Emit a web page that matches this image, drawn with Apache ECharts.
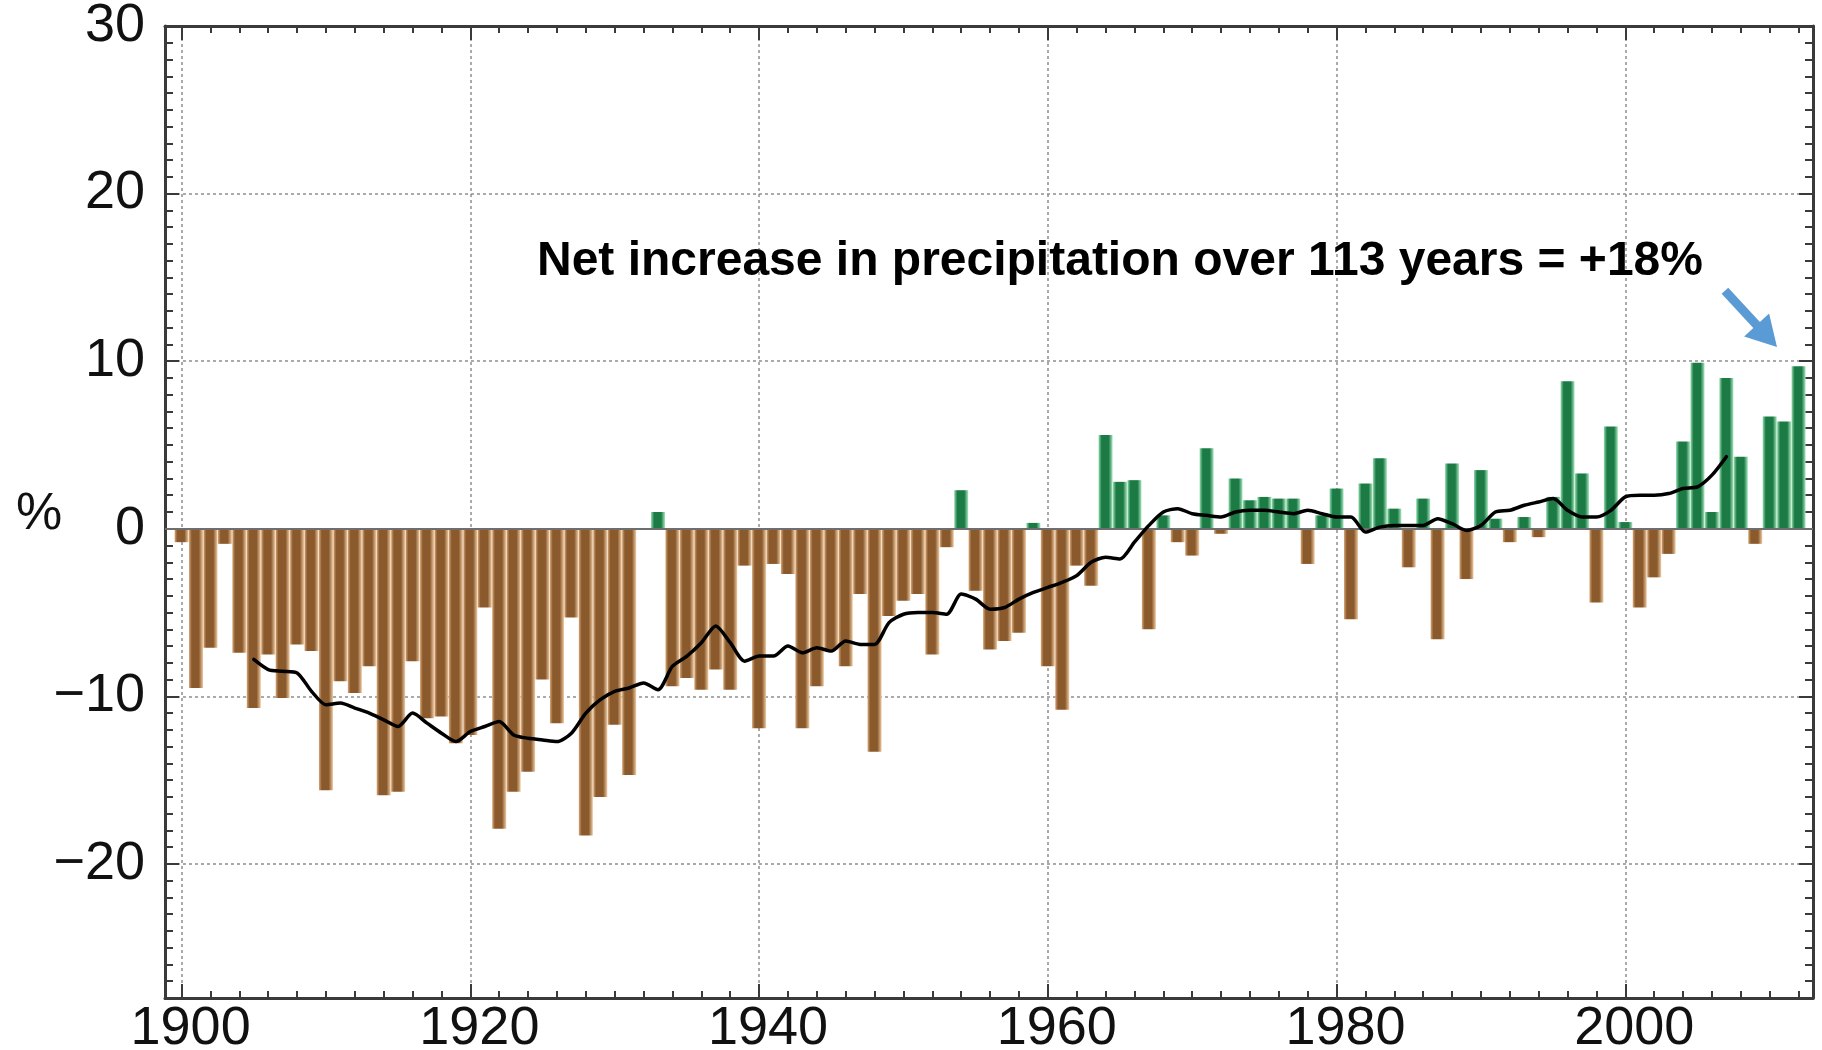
<!DOCTYPE html>
<html>
<head>
<meta charset="utf-8">
<script src="https://cdn.jsdelivr.net/npm/echarts@6/dist/echarts.min.js"></script>
<style>
html,body{margin:0;padding:0;background:#ffffff;}
#chart{width:1822px;height:1050px;}
</style>
</head>
<body>
<div id="chart"></div>
<script>
// ---------------- DATA ----------------
const firstYear = 1900;
// Annual precipitation anomaly (%), 1900-2012
const anomaly = [
  -0.8, -9.5, -7.1, -0.9, -7.4, -10.7, -7.5, -10.1, -6.9, -7.3,
  -15.6, -9.1, -9.8, -8.2, -15.9, -15.7, -7.9, -11.3, -11.2, -12.8,
  -12.3, -4.7, -17.9, -15.7, -14.5, -9.0, -11.6, -5.3, -18.3, -16.0,
  -11.7, -14.7, 0.0, 1.0, -9.4, -8.9, -9.6, -8.4, -9.6, -2.2,
  -11.9, -2.1, -2.7, -11.9, -9.4, -7.2, -8.2, -3.9, -13.3, -5.2,
  -4.3, -3.9, -7.5, -1.1, 2.3, -3.7, -7.2, -6.7, -6.2, 0.35,
  -8.2, -10.8, -2.2, -3.4, 5.6, 2.8, 2.9, -6.0, 0.8, -0.8,
  -1.6, 4.8, -0.3, 3.0, 1.7, 1.9, 1.8, 1.8, -2.1, 0.8,
  2.4, -5.4, 2.7, 4.2, 1.2, -2.3, 1.8, -6.6, 3.9, -3.0,
  3.5, 0.6, -0.8, 0.7, -0.5, 1.9, 8.8, 3.3, -4.4, 6.1,
  0.4, -4.7, -2.9, -1.5, 5.2, 9.9, 1.0, 9.0, 4.3, -0.9,
  6.7, 6.4, 9.7
];
const trendFirstYear = 1905;
// Smoothed (running mean) anomaly (%), 1905-2007
const trend = [
  -7.8, -8.4, -8.5, -8.6, -9.7,
  -10.5, -10.4, -10.7, -11.0, -11.4, -11.8, -11.0, -11.6, -12.2, -12.7,
  -12.1, -11.8, -11.5, -12.3, -12.5, -12.6, -12.7, -12.2, -11.0, -10.2,
  -9.7, -9.5, -9.2, -9.6, -8.2, -7.6, -6.8, -5.8, -6.8, -7.9,
  -7.6, -7.6, -7.0, -7.4, -7.1, -7.3, -6.7, -6.9, -6.9, -5.6,
  -5.1, -5.0, -5.0, -5.1, -3.9, -4.2, -4.8, -4.7, -4.2, -3.8,
  -3.5, -3.2, -2.8, -2.0, -1.7, -1.8, -0.8, 0.2, 1.0, 1.2,
  0.9, 0.8, 0.7, 1.0, 1.1, 1.1, 1.0, 0.9, 1.1, 0.9,
  0.7, 0.7, -0.2, 0.1, 0.2, 0.2, 0.2, 0.6, 0.3, -0.1,
  0.2, 1.0, 1.1, 1.4, 1.6, 1.8, 1.1, 0.7, 0.7, 1.1,
  1.9, 2.0, 2.0, 2.1, 2.4, 2.5, 3.2, 4.3
];
const xTickLabels = [1900, 1920, 1940, 1960, 1980, 2000];
const yTickLabels = [-20, -10, 0, 10, 20, 30];
const yUnitLabel = '%';
const annotationText = 'Net increase in precipitation over 113 years = +18%';

// ---------------- BUILD ----------------
const FONT = '"Liberation Sans", Arial, Helvetica, sans-serif';
const X_MIN = 1898.85, X_MAX = 2013;
const Y_MIN = -28, Y_MAX = 30;

const minorXTicks = [];
for (let y = 1900; y <= 2012; y += 2) minorXTicks.push(y);

const brownGrad = new echarts.graphic.LinearGradient(0, 0, 1, 0, [
  {offset: 0, color: '#d6a677'}, {offset: 0.2, color: '#8a5a2c'},
  {offset: 0.7, color: '#8a5a2c'}, {offset: 1, color: '#efcaa2'}
]);
const greenGrad = new echarts.graphic.LinearGradient(0, 0, 1, 0, [
  {offset: 0, color: '#93dbae'}, {offset: 0.22, color: '#1c7a45'},
  {offset: 0.72, color: '#1c7a45'}, {offset: 1, color: '#a6e6bf'}
]);

const barData = anomaly.map((v, i) => ({
  value: [firstYear + i, v],
  itemStyle: {color: v >= 0 ? greenGrad : brownGrad}
}));
const trendData = trend.map((v, i) => [trendFirstYear + i, v]);

const axisColor = '#3a3a3a';
const gridLine = {show: true, lineStyle: {color: '#8e8e8e', width: 1.5, type: [3, 3]}};
const fmtNum = v => (v < 0 ? '\u2212' + Math.abs(v) : String(v));

function xAxisCfg(pos, major) {
  return {
    type: 'value', position: pos, min: X_MIN, max: X_MAX,
    axisLine: {show: major, onZero: false, lineStyle: {color: axisColor, width: 3}},
    axisTick: {show: true, inside: true, length: major ? 14 : 7,
      customValues: major ? xTickLabels : minorXTicks,
      lineStyle: {color: axisColor, width: 2}},
    axisLabel: {show: false},
    splitLine: {show: false}
  };
}
function yAxisCfg(pos, major) {
  const c = {
    type: 'value', position: pos, min: Y_MIN, max: Y_MAX,
    axisLine: {show: major, onZero: false, lineStyle: {color: axisColor, width: 3}},
    axisTick: {show: true, inside: true, length: major ? 14 : 8,
      lineStyle: {color: axisColor, width: 2}},
    axisLabel: {show: false},
    splitLine: {show: false}
  };
  if (major) c.axisTick.customValues = yTickLabels; else c.interval = 1;
  return c;
}

const xMain = xAxisCfg('bottom', true);
xMain.axisLabel = {show: true, customValues: xTickLabels, margin: 4,
  fontSize: 54, fontFamily: FONT, color: '#111', padding: [0, 0, 0, 18],
  formatter: v => String(v)};
xMain.splitLine = gridLine;

const yMain = yAxisCfg('left', true);
yMain.axisLabel = {show: true, customValues: yTickLabels, margin: 20,
  fontSize: 54, fontFamily: FONT, color: '#111', formatter: fmtNum};
yMain.splitLine = gridLine;

const option = {
  animation: false,
  backgroundColor: '#ffffff',
  grid: {left: 165, right: 9, top: 26, bottom: 52, outerBoundsMode: 'none'},
  xAxis: [xMain, xAxisCfg('bottom', false), xAxisCfg('top', true), xAxisCfg('top', false)],
  yAxis: [yMain, yAxisCfg('left', false), yAxisCfg('right', true), yAxisCfg('right', false)],
  series: [
    {
      type: 'bar', xAxisIndex: 0, yAxisIndex: 0,
      barWidth: 14,
      data: barData,
      markLine: {
        silent: true, symbol: 'none', label: {show: false},
        lineStyle: {color: '#6e6e6e', width: 2, type: 'solid'},
        data: [{yAxis: 0}]
      }
    },
    {
      type: 'line', xAxisIndex: 0, yAxisIndex: 0,
      data: trendData, showSymbol: false, smooth: 0.25, z: 5,
      lineStyle: {color: '#000', width: 3.5, join: 'round', cap: 'round'},
      markLine: {
        silent: true, symbol: ['none', 'triangle'], symbolSize: [34, 30],
        label: {show: false},
        lineStyle: {color: '#5b9bd5', width: 9, type: 'solid', opacity: 1},
        data: [[{coord: [2006.9, 14.2]}, {coord: [2009.8, 11.5]}]]
      }
    }
  ],
  graphic: [
    {type: 'text', left: 537, top: 238, z: 10,
      style: {text: annotationText, font: 'bold 48px ' + FONT, fill: '#000'}},
    {type: 'text', left: 16, top: 489, z: 10,
      style: {text: yUnitLabel, font: '52px ' + FONT, fill: '#111'}}
  ]
};

const chart = echarts.init(document.getElementById('chart'), null, {renderer: 'canvas', width: 1822, height: 1050});
chart.setOption(option);
</script>
</body>
</html>
